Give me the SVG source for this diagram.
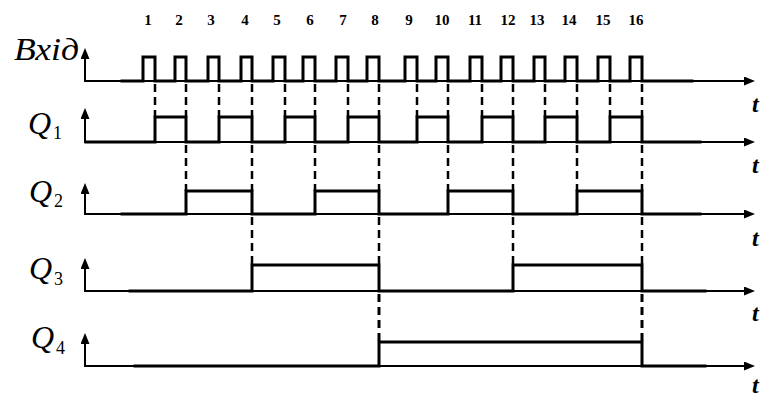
<svg xmlns="http://www.w3.org/2000/svg" width="762" height="397" viewBox="0 0 762 397">
<style>
.axis{stroke:#000;stroke-width:2;fill:none}
.sig{stroke:#000;stroke-width:3;fill:none;stroke-linejoin:miter;stroke-linecap:square}
.dash{stroke:#000;stroke-width:2.5;fill:none;stroke-dasharray:8 5}
.num{font-family:"Liberation Serif",serif;font-weight:bold;font-size:15px;text-anchor:middle;fill:#000}
.lab{font-family:"Liberation Serif",serif;font-style:italic;font-size:32px;fill:#000}
.sub{font-family:"Liberation Serif",serif;font-size:18px;fill:#000}
.t{font-family:"Liberation Serif",serif;font-style:italic;font-weight:bold;font-size:24px;fill:#000}
</style>
<defs>
<marker id="arr" viewBox="0 0 11 9" refX="0" refY="4.5" markerWidth="11" markerHeight="9" markerUnits="userSpaceOnUse" orient="auto">
<path d="M0,0 L11,4.5 L0,9 Z" fill="#000"/>
</marker>
</defs>
<rect width="762" height="397" fill="#fff"/>

<g id="numbers">
<text class="num" x="148" y="25">1</text>
<text class="num" x="179" y="25">2</text>
<text class="num" x="211" y="25">3</text>
<text class="num" x="245" y="25">4</text>
<text class="num" x="277" y="25">5</text>
<text class="num" x="310" y="25">6</text>
<text class="num" x="343" y="25">7</text>
<text class="num" x="375" y="25">8</text>
<text class="num" x="409" y="25">9</text>
<text class="num" x="442" y="25">10</text>
<text class="num" x="475" y="25">11</text>
<text class="num" x="508" y="25">12</text>
<text class="num" x="537" y="25">13</text>
<text class="num" x="569" y="25">14</text>
<text class="num" x="603" y="25">15</text>
<text class="num" x="636" y="25">16</text>
</g>

<g id="axes">
<line class="axis" x1="85" y1="82" x2="85" y2="59" marker-end="url(#arr)"/>
<line class="axis" x1="84" y1="81" x2="744" y2="81" marker-end="url(#arr)"/>
<line class="axis" x1="85" y1="143" x2="85" y2="119" marker-end="url(#arr)"/>
<line class="axis" x1="84" y1="142" x2="744" y2="142" marker-end="url(#arr)"/>
<line class="axis" x1="85" y1="215" x2="85" y2="194" marker-end="url(#arr)"/>
<line class="axis" x1="84" y1="214" x2="744" y2="214" marker-end="url(#arr)"/>
<line class="axis" x1="85" y1="292" x2="85" y2="269" marker-end="url(#arr)"/>
<line class="axis" x1="84" y1="291" x2="744" y2="291" marker-end="url(#arr)"/>
<line class="axis" x1="85" y1="367" x2="85" y2="344" marker-end="url(#arr)"/>
<line class="axis" x1="84" y1="366" x2="744" y2="366" marker-end="url(#arr)"/>
</g>

<g id="connectors">
<line class="dash" x1="155" y1="84" x2="155" y2="117"/>
<line class="dash" x1="186" y1="84" x2="186" y2="117"/>
<line class="dash" x1="219" y1="84" x2="219" y2="117"/>
<line class="dash" x1="252" y1="84" x2="252" y2="117"/>
<line class="dash" x1="285" y1="84" x2="285" y2="117"/>
<line class="dash" x1="315" y1="84" x2="315" y2="117"/>
<line class="dash" x1="348" y1="84" x2="348" y2="117"/>
<line class="dash" x1="379" y1="84" x2="379" y2="117"/>
<line class="dash" x1="417" y1="84" x2="417" y2="117"/>
<line class="dash" x1="448" y1="84" x2="448" y2="117"/>
<line class="dash" x1="482" y1="84" x2="482" y2="117"/>
<line class="dash" x1="513" y1="84" x2="513" y2="117"/>
<line class="dash" x1="545" y1="84" x2="545" y2="117"/>
<line class="dash" x1="577" y1="84" x2="577" y2="117"/>
<line class="dash" x1="610" y1="84" x2="610" y2="117"/>
<line class="dash" x1="642" y1="84" x2="642" y2="117"/>

<line class="dash" x1="186" y1="145" x2="186" y2="191"/>
<line class="dash" x1="252" y1="145" x2="252" y2="191"/>
<line class="dash" x1="315" y1="145" x2="315" y2="191"/>
<line class="dash" x1="379" y1="145" x2="379" y2="191"/>
<line class="dash" x1="448" y1="145" x2="448" y2="191"/>
<line class="dash" x1="513" y1="145" x2="513" y2="191"/>
<line class="dash" x1="577" y1="145" x2="577" y2="191"/>
<line class="dash" x1="642" y1="145" x2="642" y2="191"/>

<line class="dash" x1="252" y1="217" x2="252" y2="265"/>
<line class="dash" x1="379" y1="217" x2="379" y2="265"/>
<line class="dash" x1="513" y1="217" x2="513" y2="265"/>
<line class="dash" x1="642" y1="217" x2="642" y2="265"/>

<line class="dash" x1="379" y1="294" x2="379" y2="342" style="stroke-width:3"/>
<line class="dash" x1="642" y1="294" x2="642" y2="342" style="stroke-width:3"/>
</g>

<g id="input">
<text class="lab" x="14" y="60" textLength="65" lengthAdjust="spacingAndGlyphs">Вхід</text>
<path class="sig" d="M122,81 H143 V57 H155 V81 H175 V57 H186 V81 H208 V57 H219 V81 H241 V57 H252 V81 H273 V57 H285 V81 H303 V57 H315 V81 H336 V57 H348 V81 H367 V57 H379 V81 H405 V57 H417 V81 H436 V57 H448 V81 H470 V57 H482 V81 H501 V57 H513 V81 H534 V57 H545 V81 H565 V57 H577 V81 H598 V57 H610 V81 H630 V57 H642 V81 H692"/>
<text class="t" x="752" y="112">t</text>
</g>

<g id="q1">
<text class="lab" x="28" y="134">Q</text><text class="sub" x="53" y="139">1</text>
<path class="sig" d="M86,142 H155 V117 H186 V142 H219 V117 H252 V142 H285 V117 H315 V142 H348 V117 H379 V142 H417 V117 H448 V142 H482 V117 H513 V142 H545 V117 H577 V142 H610 V117 H642 V142 H700"/>
<text class="t" x="752" y="173">t</text>
</g>

<g id="q2">
<text class="lab" x="29" y="202">Q</text><text class="sub" x="54" y="207">2</text>
<path class="sig" d="M122,214 H186 V191 H252 V214 H315 V191 H379 V214 H448 V191 H513 V214 H577 V191 H642 V214 H700"/>
<text class="t" x="752" y="246">t</text>
</g>

<g id="q3">
<text class="lab" x="29" y="279">Q</text><text class="sub" x="54" y="285">3</text>
<path class="sig" d="M130,291 H252 V265 H379 V291 H513 V265 H642 V291 H705"/>
<text class="t" x="752" y="321">t</text>
</g>

<g id="q4">
<text class="lab" x="31" y="348">Q</text><text class="sub" x="56" y="354">4</text>
<path class="sig" d="M135,366 H379 V342 H642 V366 H705"/>
<text class="t" x="752" y="393">t</text>
</g>
</svg>
